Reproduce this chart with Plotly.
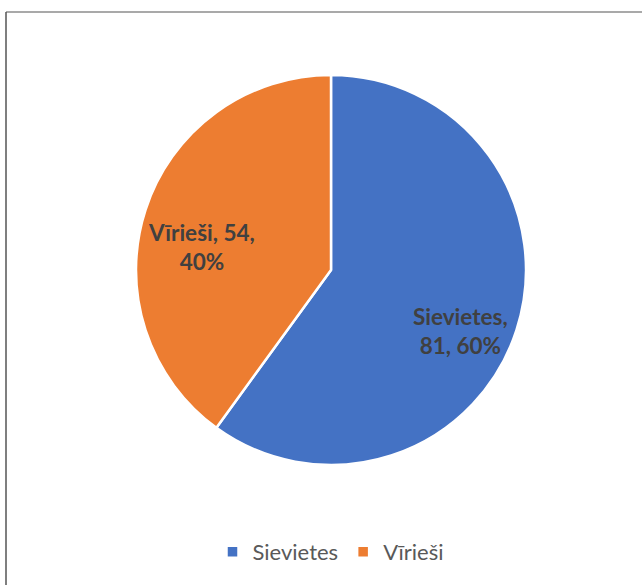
import math
import plotly.graph_objects as go

categories = ["Sievietes", "Vīrieši"]
values = [81, 54]
label_texts = ["Sievietes,<br>81, 60%", "Vīrieši, 54,<br>40%"]
colors = ["#4472C4", "#ED7D31"]

W, H = 642, 585
cx, cy, r = 331, 270, 195

fig = go.Figure()
fig.add_trace(go.Pie(
    labels=categories,
    values=values,
    textinfo="none",
    sort=False,
    direction="clockwise",
    rotation=0,
    marker=dict(colors=colors, line=dict(color="white", width=2.5)),
    hoverinfo="label+value+percent",
    domain=dict(x=[(cx - r) / W, (cx + r) / W], y=[(H - cy - r) / H, (H - cy + r) / H]),
))

# data labels placed along each slice's mid angle (computed from the values)
total = sum(values)
annotations = []
cum = 0
for cat, val, txt in zip(categories, values, label_texts):
    mid = (cum + val / 2) / total * 2 * math.pi
    cum += val
    px = cx + 0.7 * r * math.sin(mid)
    py = cy - 0.7 * r * math.cos(mid)
    annotations.append(dict(
        x=px / W, y=1 - py / H, xref="paper", yref="paper",
        xanchor="center", yanchor="middle",
        text=txt, showarrow=False, yshift=-19, align="center",
        font=dict(family="Lato", size=22.5, color="#404040", weight="bold"),
    ))

fig.update_layout(
    width=W, height=H,
    margin=dict(l=0, r=0, t=0, b=0),
    paper_bgcolor="white",
    showlegend=True,
    legend=dict(orientation="h", x=0.5 + 10 / W, xanchor="center", y=(H - 552) / H, yanchor="middle",
                font=dict(family="Lato", size=22, color="#595959"), traceorder="normal"),
    annotations=annotations,
    shapes=[
        dict(type="line", xref="paper", yref="paper", x0=6 / W, x1=1, y0=1 - 12 / H, y1=1 - 12 / H,
             line=dict(color="#8c8c8c", width=1.5)),
        dict(type="line", xref="paper", yref="paper", x0=6 / W, x1=6 / W, y0=0, y1=1 - 12 / H,
             line=dict(color="#555555", width=1.5)),
    ],
)

fig.write_html("out.html", config={"displayModeBar": False},
               post_script="document.body.style.margin='0px';")
